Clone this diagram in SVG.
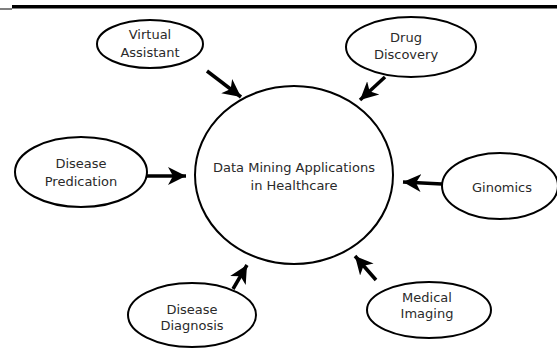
<svg xmlns="http://www.w3.org/2000/svg" width="557" height="350" viewBox="0 0 557 350">
<style>
.n{fill:#fff;stroke:#000;stroke-width:2}
.t{font-family:"DejaVu Sans",Verdana,sans-serif;font-size:13px;fill:#2a2a2a;text-anchor:middle}
.c{stroke:#000;stroke-width:3.5;fill:none;marker-end:url(#ah)}
</style>
<defs>
<marker id="ah" markerUnits="userSpaceOnUse" markerWidth="20" markerHeight="20" refX="18" refY="9" orient="auto" viewBox="0 0 20 18">
<path d="M0,0 L18,9 L0,18 L5,9 z" fill="#000"/>
</marker>
</defs>
<rect width="557" height="350" fill="#fff"/>
<rect x="12" y="5" width="545" height="3.5" fill="#000"/>
<rect x="0" y="8.5" width="12" height="1" fill="#000"/>
<g id="connectors">
<line class="c" x1="207" y1="71" x2="241" y2="97"/>
<line class="c" x1="385" y1="77" x2="360" y2="100"/>
<line class="c" x1="147" y1="176" x2="186" y2="176"/>
<line class="c" x1="442" y1="184" x2="403" y2="182"/>
<line class="c" x1="233" y1="289" x2="247" y2="265"/>
<line class="c" x1="376" y1="280" x2="355" y2="256"/>
</g>
<g id="center">
<ellipse class="n" cx="294" cy="175" rx="99" ry="89"/>
<text class="t" x="294" y="172">Data Mining Applications</text>
<text class="t" x="294" y="190">in Healthcare</text>
</g>
<g id="virtual-assistant">
<ellipse class="n" cx="150" cy="44" rx="53" ry="24"/>
<text class="t" x="150" y="39">Virtual</text>
<text class="t" x="150" y="57">Assistant</text>
</g>
<g id="drug-discovery">
<ellipse class="n" cx="411" cy="47" rx="65" ry="30"/>
<text class="t" x="406" y="42">Drug</text>
<text class="t" x="406" y="59">Discovery</text>
</g>
<g id="disease-predication">
<ellipse class="n" cx="81" cy="172" rx="66" ry="35"/>
<text class="t" x="81" y="168">Disease</text>
<text class="t" x="81" y="186">Predication</text>
</g>
<g id="ginomics">
<ellipse class="n" cx="500" cy="186" rx="58" ry="33"/>
<text class="t" x="502" y="192">Ginomics</text>
</g>
<g id="disease-diagnosis">
<ellipse class="n" cx="192" cy="315" rx="64" ry="32"/>
<text class="t" x="192" y="314">Disease</text>
<text class="t" x="192" y="330">Diagnosis</text>
</g>
<g id="medical-imaging">
<ellipse class="n" cx="429" cy="310" rx="62" ry="28"/>
<text class="t" x="427" y="302">Medical</text>
<text class="t" x="427" y="318">Imaging</text>
</g>
</svg>
